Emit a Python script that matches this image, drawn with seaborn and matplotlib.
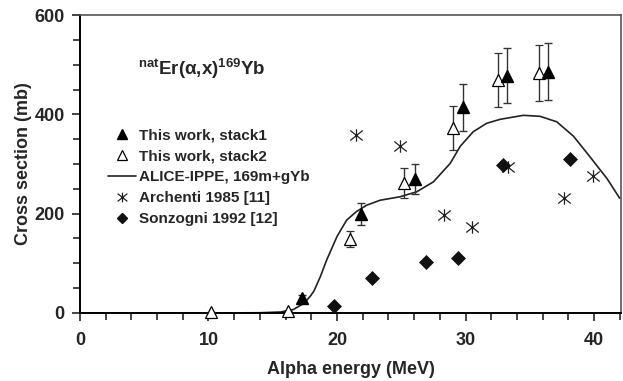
import matplotlib
matplotlib.use("Agg")
import matplotlib.pyplot as plt
from matplotlib.path import Path
from matplotlib.lines import Line2D
import seaborn as sns
import pandas as pd

# Measured cross sections, this work (stack 1)
e_stack1 = [17.3, 21.9, 26.1, 29.8, 33.2, 36.4]
s_stack1 = [31, 199, 270, 414, 478, 486]
d_stack1 = [6, 22, 30, 48, 55, 57]

# Measured cross sections, this work (stack 2)
e_stack2 = [10.2, 16.2, 21.05, 25.2, 29.05, 32.5, 35.7]
s_stack2 = [1, 5, 149, 261, 372, 469, 483]
d_stack2 = [0, 0, 17, 30, 44, 55, 57]

# ALICE-IPPE model calculation, 169m+gYb
e_alice = [0, 10, 14, 15.6, 16.6, 17.4, 17.9, 18.2, 18.7, 19.2, 20.0, 20.75, 21.5,
           22.3, 23.35, 24.9, 26.2, 27.5, 28.8, 29.6, 30.6, 31.65, 32.7, 34.5,
           35.8, 37.1, 38.4, 39.7, 41.0, 42.0]
s_alice = [0, 0, 0.5, 2, 7, 19, 33, 44, 73, 107, 154, 187, 204,
           217, 227, 234, 244, 264, 301, 336, 365, 382, 390, 398,
           396, 385, 356, 314, 271, 231]

# Archenti 1985 [11]
e_arch = [21.5, 24.9, 28.3, 30.5, 33.3, 37.7, 39.95]
s_arch = [358, 336, 198, 174, 294, 231, 276]

# Sonzogni 1992 [12]
e_sonz = [19.8, 22.75, 26.9, 29.4, 32.95, 38.1]
s_sonz = [15, 71, 103, 111, 298, 310]

x_ticks = [0, 10, 20, 30, 40]
y_ticks = [0, 200, 400, 600]

sns.set_style("ticks")
plt.rcParams["font.family"] = ["Liberation Sans", "DejaVu Sans"]
plt.rcParams["font.weight"] = "bold"
plt.rcParams["mathtext.fontset"] = "custom"
plt.rcParams["mathtext.rm"] = "Liberation Sans:bold"
plt.rcParams["mathtext.it"] = "Liberation Sans:bold"
plt.rcParams["mathtext.bf"] = "Liberation Sans:bold"

fig = plt.figure(figsize=(6.23, 3.81), dpi=100)
ax = fig.add_axes([0.1284, 0.1785, 0.8684, 0.7821])

# asterisk: X with a vertical bar
star_path = Path([(-1, -0.8), (1, 0.8), (-1, 0.8), (1, -0.8), (0, -1), (0, 1)],
                 [Path.MOVETO, Path.LINETO, Path.MOVETO, Path.LINETO,
                  Path.MOVETO, Path.LINETO])

alice = pd.DataFrame({"E": e_alice, "sigma": s_alice})
sns.lineplot(data=alice, x="E", y="sigma", ax=ax, color="#222222", lw=1.2,
             sort=False, legend=False)

ax.errorbar(e_stack2, s_stack2, yerr=d_stack2, fmt="^", ms=8, mfc="white",
            mec="black", mew=0.9, ecolor="#333333", elinewidth=1.0,
            capsize=3, capthick=1.0, zorder=4, clip_on=False)
ax.errorbar(e_stack1, s_stack1, yerr=d_stack1, fmt="^", ms=8, mfc="black",
            mec="black", ecolor="#333333", elinewidth=1.0,
            capsize=3, capthick=1.0, zorder=5, clip_on=False)

ax.plot(e_arch, s_arch, ls="none", marker=star_path, ms=9, mfc="none",
        mec="#222222", mew=0.9, zorder=3)
sonz = pd.DataFrame({"E": e_sonz, "sigma": s_sonz})
sns.scatterplot(data=sonz, x="E", y="sigma", ax=ax, marker="D", s=50,
                color="#111111", edgecolor="#111111", zorder=3, legend=False)

ax.set_xlim(0, 42.1)
ax.set_ylim(0, 600)
ax.set_xticks(x_ticks)
ax.set_yticks(y_ticks)
ax.set_xticks(range(0, 43, 2), minor=True)
ax.set_yticks(range(0, 601, 50), minor=True)
ax.tick_params(axis="x", which="major", direction="out", length=6,
               width=1.2, labelsize=13, pad=8)
ax.tick_params(axis="y", which="major", direction="out", length=6,
               width=1.2, labelsize=13, pad=5)
ax.tick_params(axis="both", which="minor", direction="out", length=5, width=1.2)
for lab in ax.get_xticklabels() + ax.get_yticklabels():
    lab.set_fontweight("bold")

for side in ["left", "bottom"]:
    ax.spines[side].set_color("black")
    ax.spines[side].set_linewidth(1.4)
for side in ["top", "right"]:
    ax.spines[side].set_visible(True)
    ax.spines[side].set_color("#555555")
    ax.spines[side].set_linewidth(1.2)

ax.set_xlabel("Alpha energy (MeV)", fontsize=13, fontweight="bold", labelpad=8)
ax.set_ylabel("Cross section (mb)", fontsize=13, fontweight="bold", labelpad=2)

ax.text(0.107, 0.82, r"$^{nat}$Er(α,x)$^{169}$Yb", transform=ax.transAxes,
        fontsize=13.5, fontweight="bold", ha="left", va="center")

handles = [
    Line2D([], [], ls="none", marker="^", ms=7, mfc="black", mec="black"),
    Line2D([], [], ls="none", marker="^", ms=7, mfc="white", mec="black", mew=0.9),
    Line2D([], [], color="#222222", lw=1.2),
    Line2D([], [], ls="none", marker=star_path, ms=7, mfc="none",
           mec="#222222", mew=0.9),
    Line2D([], [], ls="none", marker="D", ms=5.5, mfc="#111111", mec="#111111"),
]
labels = ["This work, stack1", "This work, stack2", "ALICE-IPPE, 169m+gYb",
          "Archenti 1985 [11]", "Sonzogni 1992 [12]"]
leg = ax.legend(handles, labels, loc="upper left", bbox_to_anchor=(0.052, 0.62),
                frameon=False, fontsize=11, handlelength=1.8, handletextpad=0.2,
                labelspacing=0.46, borderaxespad=0, borderpad=0)
for t in leg.get_texts():
    t.set_fontweight("bold")

fig.savefig("out.png", dpi=100)
